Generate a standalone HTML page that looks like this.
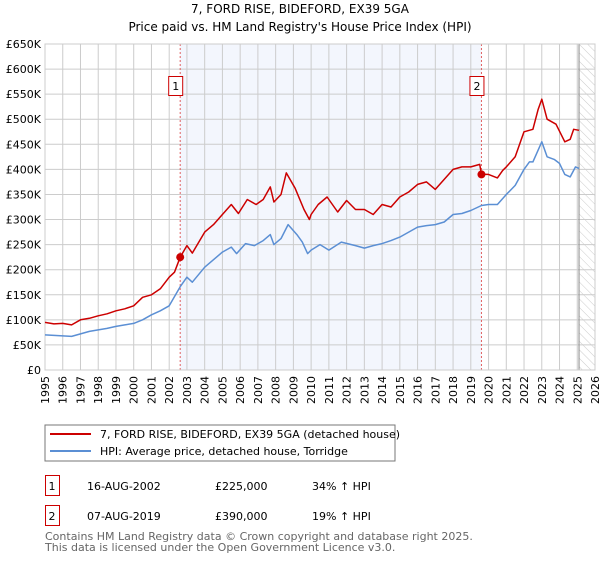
<!DOCTYPE html>
<html><head><meta charset="utf-8"><style>
body{margin:0;background:#fff;font-family:"DejaVu Sans","Liberation Sans",sans-serif;}
svg text{font-family:"DejaVu Sans","Liberation Sans",sans-serif;}
</style></head><body>
<svg id="chart" width="600" height="560" xmlns="http://www.w3.org/2000/svg">
<defs><pattern id="hatch" width="6" height="6" patternUnits="userSpaceOnUse" patternTransform="rotate(-45)"><line x1="0" y1="0" x2="0" y2="6" stroke="#ccc" stroke-width="1"/></pattern></defs>
<text x="300" y="13" text-anchor="middle" font-size="12">7, FORD RISE, BIDEFORD, EX39 5GA</text>
<text x="300" y="31" text-anchor="middle" font-size="12">Price paid vs. HM Land Registry's House Price Index (HPI)</text>
<g id="plot"></g>
<rect x="45" y="425" width="350" height="36" fill="#fff" stroke="#777"/>
<line x1="50" y1="434" x2="91" y2="434" stroke="#cc0000" stroke-width="2"/>
<text x="100" y="438" font-size="11">7, FORD RISE, BIDEFORD, EX39 5GA (detached house)</text>
<line x1="50" y1="451" x2="91" y2="451" stroke="#5b8fd4" stroke-width="2"/>
<text x="100" y="455" font-size="11">HPI: Average price, detached house, Torridge</text>
<rect x="45.5" y="475.5" width="14" height="20" fill="none" stroke="#cc0000"/>
<text x="52" y="490" font-size="11" text-anchor="middle">1</text>
<text x="87" y="490" font-size="11">16-AUG-2002</text>
<text x="215" y="490" font-size="11">£225,000</text>
<text x="312" y="490" font-size="11">34% ↑ HPI</text>
<rect x="45.5" y="505.5" width="14" height="20" fill="none" stroke="#cc0000"/>
<text x="52" y="520" font-size="11" text-anchor="middle">2</text>
<text x="87" y="520" font-size="11">07-AUG-2019</text>
<text x="215" y="520" font-size="11">£390,000</text>
<text x="312" y="520" font-size="11">19% ↑ HPI</text>
<text x="45" y="540" font-size="11" fill="#666">Contains HM Land Registry data © Crown copyright and database right 2025.</text>
<text x="45" y="551" font-size="11" fill="#666">This data is licensed under the Open Government Licence v3.0.</text>
</svg>
<script>
const hpiYears=[1995,1995.5,1996,1996.5,1997,1997.5,1998,1998.5,1999,1999.5,2000,2000.5,2001,2001.5,2002,2002.62,2003,2003.3,2004,2004.5,2005,2005.5,2005.8,2006.3,2006.8,2007.3,2007.7,2007.9,2008.3,2008.7,2009.2,2009.5,2009.8,2010,2010.5,2011,2011.7,2012.5,2013,2013.5,2014,2014.5,2015,2015.5,2016,2016.5,2017,2017.5,2018,2018.5,2019,2019.6,2020,2020.5,2021,2021.5,2022,2022.3,2022.5,2023,2023.3,2023.7,2024,2024.3,2024.6,2024.9,2025.1];
const hpiValues=[70,69,68,67,72,77,80,83,87,90,93,100,110,118,128,166,185,175,205,220,235,245,232,252,248,258,270,250,262,290,270,255,232,239,250,239,255,248,243,248,252,258,265,275,285,288,290,295,310,312,318,328,330,330,350,368,400,415,415,455,425,420,412,390,385,405,402];
const propYears=[1995,1995.5,1996,1996.5,1997,1997.5,1998,1998.5,1999,1999.5,2000,2000.5,2001,2001.5,2002,2002.3,2002.62,2003,2003.3,2004,2004.5,2005,2005.5,2005.9,2006.4,2006.9,2007.3,2007.7,2007.9,2008.3,2008.6,2009.1,2009.6,2009.9,2010,2010.4,2010.9,2011.5,2012,2012.5,2013,2013.5,2014,2014.5,2015,2015.5,2016,2016.5,2017,2017.5,2018,2018.5,2019,2019.5,2019.6,2020,2020.5,2020.8,2021,2021.5,2022,2022.5,2022.8,2023,2023.3,2023.8,2024.3,2024.6,2024.8,2025.1];
const propValues=[95,92,93,90,100,103,108,112,118,122,128,145,150,162,185,195,225,248,233,275,290,310,330,312,340,330,340,365,335,350,393,362,320,300,310,330,345,315,338,320,320,310,330,325,345,355,370,375,360,380,400,405,405,410,390,390,383,398,405,425,475,480,520,540,500,490,455,460,480,478];
const saleYears=[2002.62,2019.6];
const saleValues=[225,390];
const yTicks=[0,50,100,150,200,250,300,350,400,450,500,550,600,650];
const yTickLabels=["£0","£50K","£100K","£150K","£200K","£250K","£300K","£350K","£400K","£450K","£500K","£550K","£600K","£650K"];
const xTicks=[1995,1996,1997,1998,1999,2000,2001,2002,2003,2004,2005,2006,2007,2008,2009,2010,2011,2012,2013,2014,2015,2016,2017,2018,2019,2020,2021,2022,2023,2024,2025,2026];

const L=45,R=595,T=44,B=370,x0=1995,x1=2026,yMax=650;
const X=v=>L+(v-x0)/(x1-x0)*(R-L);
const Y=v=>B-v/yMax*(B-T);
const NS="http://www.w3.org/2000/svg";
const g=document.getElementById('plot');
function mk(t,a){const e=document.createElementNS(NS,t);for(const k in a)e.setAttribute(k,a[k]);g.appendChild(e);return e;}
let e=mk('rect',{x:L,y:T,width:R-L,height:B-T,fill:'#fff'});


e=mk('rect',{x:X(saleYears[0]),y:T,width:X(saleYears[1])-X(saleYears[0]),height:B-T,fill:'#f3f6fd'});


e=mk('rect',{x:X(2025.1),y:T,width:R-X(2025.1),height:B-T,fill:'url(#hatch)'});


yTicks.forEach((v,i)=>{
 let l=mk('line',{x1:L,x2:R,y1:Y(v),y2:Y(v),stroke:'#ccc','stroke-width':1});
 
 
 let t=mk('text',{x:L-4,y:Y(v)+4,'text-anchor':'end','font-size':11});
 t.textContent=yTickLabels[i];
 
 
});
xTicks.forEach(v=>{
 let l=mk('line',{x1:X(v),x2:X(v),y1:T,y2:B,stroke:'#ccc','stroke-width':1});
 
 
 let t=mk('text',{x:X(v)+4,y:B+6,'text-anchor':'end','font-size':11,transform:`rotate(-90 ${X(v)+4} ${B+6})`});
 t.textContent=v;
 
 
});
e=mk('line',{x1:X(2025.1),x2:X(2025.1),y1:T,y2:B,stroke:'#888','stroke-width':1});


saleYears.forEach((v,i)=>{
 let l=mk('line',{x1:X(v),x2:X(v),y1:T,y2:B,stroke:'#e06060','stroke-dasharray':'2,2','stroke-width':1});
 
 
 let r=mk('rect',{x:X(v)-11.5,y:76.5,width:14,height:19,fill:'#fff',stroke:'#cc0000'});
 
 
 let t=mk('text',{x:X(v)-4.5,y:90,'text-anchor':'middle','font-size':11});
 t.textContent=String(i+1);
 
 
});
e=mk('rect',{x:L,y:T,width:R-L,height:B-T,fill:'none',stroke:'#ccc'});


function path(xs,ys,c,n){
 const d=xs.map((v,i)=>(i?'L':'M')+X(v).toFixed(1)+','+Y(ys[i]).toFixed(1)).join('');
 const p=mk('path',{d:d,fill:'none',stroke:c,'stroke-width':1.5,'stroke-linejoin':'round'});
 
 
}
path(hpiYears,hpiValues,'#5b8fd4','hpi-line');
path(propYears,propValues,'#cc0000','property-line');
saleYears.forEach((v,i)=>{
 const c=mk('circle',{cx:X(v),cy:Y(saleValues[i]),r:4,fill:'#cc0000'});
 
 
});
</script>
</body></html>
